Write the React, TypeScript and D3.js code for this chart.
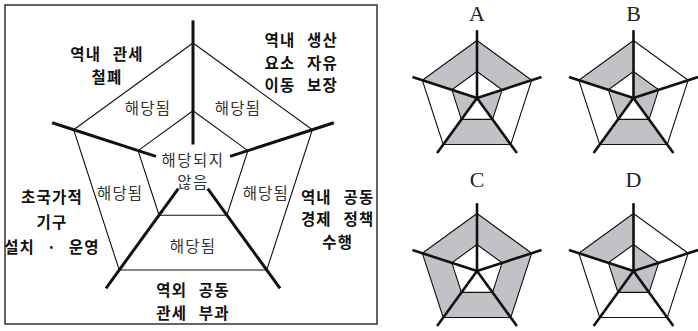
import React from "react";
import * as d3 from "d3";

// sectors clockwise, starting with the one left of the top axis
const features = [
  "역내 관세 철폐",
  "역내 생산 요소 자유 이동 보장",
  "역내 공동 경제 정책 수행",
  "역외 공동 관세 부과",
  "초국가적 기구 설치 · 운영",
];
const featureLines = [
  ["역내 관세", "철폐"],
  ["역내 생산", "요소 자유", "이동 보장"],
  ["역내 공동", "경제 정책", "수행"],
  ["역외 공동", "관세 부과"],
  ["초국가적", "기구", "설치 · 운영"],
];
const levelLabels = ["해당되지 않음", "해당됨"];
const centerLines = ["해당되지", "않음"];

// 1 = 해당됨 (outer ring shaded), 0 = 해당되지 않음 (inner part shaded)
const chartNames = ["A", "B", "C", "D"];
const chartA = [1, 1, 0, 1, 0];
const chartB = [1, 0, 0, 1, 0];
const chartC = [1, 1, 1, 1, 1];
const chartD = [1, 0, 0, 0, 0];
const chartValues = [chartA, chartB, chartC, chartD];

const W = 698;
const H = 331;
const FILL = "#c1c2c6";
const KR = "'Noto Sans CJK KR', 'Noto Sans', sans-serif";

const n = features.length;
const angle = d3.scaleLinear().domain([0, n]).range([0, 2 * Math.PI]);

function pt(a: number, r: number): [number, number] {
  return [r * Math.sin(a), -r * Math.cos(a)];
}

function makeRadius(R: number) {
  // 0 = center, 1 = inner pentagon, 2 = outer pentagon
  return d3.scaleLinear().domain([0, 1, 2]).range([0, R * 0.46, R]);
}

const line = d3.line();

function sectorPath(k: number, level: number, r: d3.ScaleLinear<number, number>) {
  const a0 = angle(k - 1);
  const a1 = angle(k);
  if (level === 1) {
    return line([pt(a0, r(2)), pt(a1, r(2)), pt(a1, r(1)), pt(a0, r(1))]) + "Z";
  }
  return line([[0, 0], pt(a0, r(1)), pt(a1, r(1))]) + "Z";
}

function pentagon(rr: number) {
  return line(d3.range(n).map((i) => pt(angle(i), rr))) + "Z";
}

function Frame({ R, axisW, gaps, values }: {
  R: number; axisW: number; gaps: number[]; values?: number[];
}) {
  const r = makeRadius(R);
  return (
    <g>
      {values &&
        values.map((v, k) => (
          <path key={k} d={sectorPath(k, v, r)} fill={FILL} stroke="none" />
        ))}
      <path d={pentagon(r(2))} fill="none" stroke="#111" strokeWidth={1.1} />
      <path d={pentagon(r(1))} fill="none" stroke="#111" strokeWidth={1.1} />
      {d3.range(n).map((i) => {
        const [x1, y1] = pt(angle(i), gaps[i]);
        const [x2, y2] = pt(angle(i), R * 1.18);
        return (
          <line key={i} x1={x1} y1={y1} x2={x2} y2={y2}
            stroke="#111" strokeWidth={axisW} />
        );
      })}
    </g>
  );
}

export default function App() {
  // main explanatory chart
  const cx = 193;
  const cy = 168.5;
  const R = 125.5;
  const r = makeRadius(R);
  const labelR = [135, 152, 153, 132, 150.5];
  const labelA = [-39.6, 45.4, 109, 180, 249.6];
  const lineH = [22.5, 22.5, 22.5, 23, 25];

  // small charts
  const cols = [477, 633.5];
  const rows = [{ cy: 98, ty: 21 }, { cy: 271, ty: 187 }];
  const smallR = 57.5;

  return (
    <svg width={W} height={H} style={{ position: "absolute", left: 0, top: 0 }}>
      <rect x={0} y={0} width={W} height={H} fill="#fff" />
      <rect x={5} y={5} width={372} height={319} fill="none" stroke="#333" strokeWidth={1.5} />

      <g transform={`translate(${cx},${cy})`}>
        <Frame R={R} axisW={3} gaps={[24, 39, 25, 25, 39]} />

        {/* 해당됨 in each outer ring sector */}
        {features.map((f, k) => {
          const a = (angle(k - 1) + angle(k)) / 2;
          const [x, y] = pt(a, (r(1) + r(2)) / 2 - 15);
          return (
            <text key={f} x={x} y={y} textAnchor="middle" dominantBaseline="central"
              fontFamily={KR} fontSize={15.5} letterSpacing={1.2} fill="#333">
              {levelLabels[1]}
            </text>
          );
        })}

        {centerLines.map((s, i) => (
          <text key={s} x={0} y={-10 + i * 22.5} textAnchor="middle" dominantBaseline="central"
            fontFamily={KR} fontSize={15.5} letterSpacing={1.5} fill="#333">
            {s}
          </text>
        ))}

        {featureLines.map((lines, k) => {
          const [x, y] = pt((labelA[k] * Math.PI) / 180, labelR[k]);
          const y0 = y - ((lines.length - 1) * lineH[k]) / 2;
          return (
            <g key={k}>
              {lines.map((s, j) => (
                <text key={j} x={x} y={y0 + j * lineH[k]} textAnchor="middle"
                  dominantBaseline="central" fontFamily={KR} fontSize={15.5}
                  fontWeight={700} fill="#111" letterSpacing={1.2} wordSpacing={7}
                  style={{ whiteSpace: "pre" }}>
                  {s}
                </text>
              ))}
            </g>
          );
        })}
      </g>

      {chartValues.map((vals, i) => {
        const x = cols[i % 2];
        const row = rows[Math.floor(i / 2)];
        return (
          <g key={chartNames[i]}>
            <text x={x} y={row.ty} textAnchor="middle"
              fontFamily="'Liberation Serif', 'DejaVu Serif', serif"
              fontSize={22} fill="#222">
              {chartNames[i]}
            </text>
            <g transform={`translate(${x},${row.cy})`}>
              <Frame R={smallR} axisW={2.6} gaps={[0, 0, 0, 0, 0]} values={vals} />
            </g>
          </g>
        );
      })}
    </svg>
  );
}
